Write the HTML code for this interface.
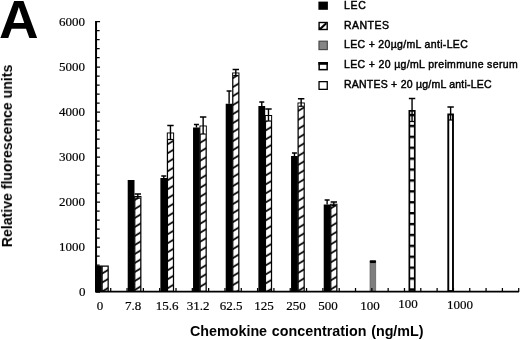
<!DOCTYPE html><html><head><meta charset="utf-8"><style>
html,body{margin:0;padding:0;background:#fff;}
body{width:520px;height:340px;position:relative;overflow:hidden;font-family:"Liberation Sans",sans-serif;color:#000;}
.t{position:absolute;white-space:nowrap;line-height:1;will-change:transform;}
.s{font-family:"Liberation Serif",serif;font-size:13px;-webkit-text-stroke:0.2px #000;}
.yl{right:435px;text-align:right;}
.xl{transform:translateX(-50%);}
.lg{font-size:10.5px;left:344px;font-weight:normal;-webkit-text-stroke:0.45px #000;}
</style></head><body>
<svg width="520" height="340" viewBox="0 0 520 340" style="position:absolute;left:0;top:0">
<defs>
<pattern id="h" width="15" height="9" patternUnits="userSpaceOnUse" patternTransform="translate(0,1.8)"><rect width="15" height="9" fill="#fff"/><path d="M-5,12 L20,-3 M-5,3 L5,-3 M10,12 L20,6" stroke="#000" stroke-width="1.8"/></pattern>
<pattern id="d" width="7" height="10.9" patternUnits="userSpaceOnUse" patternTransform="translate(0,4.9)"><rect width="7" height="10.9" fill="#fff"/><rect width="7" height="2.4" fill="#000"/></pattern>
</defs>
<rect x="95.03" y="265.5" width="6.80" height="26.5" fill="#000"/>
<rect x="102.11" y="266.12" width="6.05" height="25.25" fill="url(#h)" stroke="#000" stroke-width="1.25"/>
<rect x="127.70" y="180" width="6.80" height="112.0" fill="#000"/>
<rect x="134.77" y="196.62" width="6.05" height="94.75" fill="url(#h)" stroke="#000" stroke-width="1.25"/>
<rect x="135.15" y="197.00" width="5.30" height="1.00" fill="#fff"/>
<path d="M137.80,194 V198 M134.60,194 H141.00" stroke="#000" stroke-width="1.4" fill="none"/>
<path d="M135.20,198 H140.40" stroke="#000" stroke-width="1.2" fill="none"/>
<rect x="160.37" y="178" width="6.80" height="114.0" fill="#000"/>
<path d="M163.77,176 V178 M161.27,176 H166.27" stroke="#000" stroke-width="1.4" fill="none"/>
<rect x="167.44" y="133.12" width="6.05" height="158.25" fill="url(#h)" stroke="#000" stroke-width="1.25"/>
<rect x="167.82" y="133.50" width="5.30" height="6.00" fill="#fff"/>
<path d="M170.47,125.5 V139.5 M167.27,125.5 H173.67" stroke="#000" stroke-width="1.4" fill="none"/>
<path d="M167.87,139.5 H173.07" stroke="#000" stroke-width="1.2" fill="none"/>
<rect x="193.04" y="127.5" width="6.80" height="164.5" fill="#000"/>
<path d="M196.44,124.5 V127.5 M193.94,124.5 H198.94" stroke="#000" stroke-width="1.4" fill="none"/>
<rect x="200.11" y="126.12" width="6.05" height="165.25" fill="url(#h)" stroke="#000" stroke-width="1.25"/>
<rect x="200.49" y="126.50" width="5.30" height="7.50" fill="#fff"/>
<path d="M203.14,117 V134.0 M199.94,117 H206.34" stroke="#000" stroke-width="1.4" fill="none"/>
<path d="M200.54,134.0 H205.74" stroke="#000" stroke-width="1.2" fill="none"/>
<rect x="225.71" y="103.75" width="6.80" height="188.25" fill="#000"/>
<path d="M229.11,91 V103.75 M226.61,91 H231.61" stroke="#000" stroke-width="1.4" fill="none"/>
<rect x="232.78" y="73.12" width="6.05" height="218.25" fill="url(#h)" stroke="#000" stroke-width="1.25"/>
<rect x="233.16" y="73.50" width="5.30" height="2.00" fill="#fff"/>
<path d="M235.81,69.5 V75.5 M232.61,69.5 H239.01" stroke="#000" stroke-width="1.4" fill="none"/>
<path d="M233.21,75.5 H238.41" stroke="#000" stroke-width="1.2" fill="none"/>
<rect x="258.38" y="106" width="6.80" height="186.0" fill="#000"/>
<path d="M261.78,102 V106 M259.28,102 H264.28" stroke="#000" stroke-width="1.4" fill="none"/>
<rect x="265.45" y="115.62" width="6.05" height="175.75" fill="url(#h)" stroke="#000" stroke-width="1.25"/>
<rect x="265.83" y="116.00" width="5.30" height="5.00" fill="#fff"/>
<path d="M268.48,109 V121 M265.28,109 H271.68" stroke="#000" stroke-width="1.4" fill="none"/>
<path d="M265.88,121 H271.08" stroke="#000" stroke-width="1.2" fill="none"/>
<rect x="291.05" y="156" width="6.80" height="136.0" fill="#000"/>
<path d="M294.45,153 V156 M291.95,153 H296.95" stroke="#000" stroke-width="1.4" fill="none"/>
<rect x="298.12" y="103.12" width="6.05" height="188.25" fill="url(#h)" stroke="#000" stroke-width="1.25"/>
<rect x="298.50" y="103.50" width="5.30" height="2.75" fill="#fff"/>
<path d="M301.15,98.75 V106.25 M297.95,98.75 H304.35" stroke="#000" stroke-width="1.4" fill="none"/>
<path d="M298.55,106.25 H303.75" stroke="#000" stroke-width="1.2" fill="none"/>
<rect x="323.72" y="204.5" width="6.80" height="87.5" fill="#000"/>
<path d="M327.12,200 V204.5 M324.62,200 H329.62" stroke="#000" stroke-width="1.4" fill="none"/>
<rect x="330.79" y="204.38" width="6.05" height="87.00" fill="url(#h)" stroke="#000" stroke-width="1.25"/>
<rect x="331.17" y="204.75" width="5.30" height="0.75" fill="#fff"/>
<path d="M333.82,202 V205.5 M330.62,202 H337.02" stroke="#000" stroke-width="1.4" fill="none"/>
<path d="M331.22,205.5 H336.42" stroke="#000" stroke-width="1.2" fill="none"/>
<rect x="369.99" y="262.90" width="5.80" height="28.80" fill="#7e7e7e" stroke="#5a5a5a" stroke-width="0.6"/>
<rect x="369.69" y="260.20000000000005" width="6.40" height="2.8" rx="0.8" fill="#000"/>
<rect x="409.36" y="110.85" width="5.40" height="180.30" fill="url(#d)" stroke="#000" stroke-width="1.7"/>
<path d="M412.06,98.5 V121.5 M408.86,98.5 H415.26" stroke="#000" stroke-width="1.4" fill="none"/>
<path d="M409.46,121.5 H414.66" stroke="#000" stroke-width="1.2" fill="none"/>
<rect x="448.28" y="114.45" width="4.70" height="176.60" fill="#fff" stroke="#000" stroke-width="1.9"/>
<path d="M450.63,107 V120.0 M447.43,107 H453.83" stroke="#000" stroke-width="1.4" fill="none"/>
<path d="M448.03,120.0 H453.23" stroke="#000" stroke-width="1.2" fill="none"/>
<path d="M96.05,20.9 V292.0" stroke="#000" stroke-width="2" fill="none"/>
<path d="M95.05,291.6 H519" stroke="#000" stroke-width="1.9" fill="none"/>
<path d="M96.05,292.0 H100.05 M96.05,283.0 H99.64999999999999 M96.05,274.0 H99.64999999999999 M96.05,265.0 H99.64999999999999 M96.05,256.0 H99.64999999999999 M96.05,247.0 H100.05 M96.05,238.0 H99.64999999999999 M96.05,229.0 H99.64999999999999 M96.05,220.0 H99.64999999999999 M96.05,211.0 H99.64999999999999 M96.05,202.0 H100.05 M96.05,193.0 H99.64999999999999 M96.05,184.0 H99.64999999999999 M96.05,175.0 H99.64999999999999 M96.05,166.0 H99.64999999999999 M96.05,157.0 H100.05 M96.05,148.0 H99.64999999999999 M96.05,139.0 H99.64999999999999 M96.05,130.0 H99.64999999999999 M96.05,121.0 H99.64999999999999 M96.05,112.0 H100.05 M96.05,103.0 H99.64999999999999 M96.05,94.0 H99.64999999999999 M96.05,85.0 H99.64999999999999 M96.05,76.0 H99.64999999999999 M96.05,67.0 H100.05 M96.05,57.6 H99.64999999999999 M96.05,48.6 H99.64999999999999 M96.05,39.6 H99.64999999999999 M96.05,30.6 H99.64999999999999 M96.05,21.6 H100.05 M110.72,292.0 v-4 M127.04,292.0 v-4 M143.36,292.0 v-4 M159.68,292.0 v-4 M176.00,292.0 v-4 M192.32,292.0 v-4 M208.64,292.0 v-4 M224.96,292.0 v-4 M241.28,292.0 v-4 M257.60,292.0 v-4 M273.92,292.0 v-4 M290.24,292.0 v-4 M306.56,292.0 v-4 M322.88,292.0 v-4 M339.20,292.0 v-4 M355.52,292.0 v-4 M371.84,292.0 v-4 M388.16,292.0 v-4 M404.48,292.0 v-4 M420.80,292.0 v-4 M437.12,292.0 v-4 M453.44,292.0 v-4 M469.76,292.0 v-4 M486.08,292.0 v-4 M502.40,292.0 v-4 M518.72,292.0 v-4" stroke="#000" stroke-width="1.25" fill="none"/>
<rect x="318.4" y="1.6" width="9.5" height="8.2" fill="#000"/>
<rect x="319.10" y="22.50" width="8.10" height="7.00" fill="#fff" stroke="#000" stroke-width="1.4"/>
<path d="M319.59999999999997,29.6 L326.29999999999995,23.2" stroke="#000" stroke-width="2.1"/><path d="M319.09999999999997,26.8 V29.5 H321.79999999999995 Z" fill="#000"/>
<rect x="319.00" y="41.20" width="8.30" height="8.40" fill="#868686" stroke="#4a4a4a" stroke-width="1.2"/>
<rect x="319.15" y="62.75" width="8.00" height="6.90" fill="#fff" stroke="#000" stroke-width="1.5"/>
<rect x="318.4" y="62" width="9.5" height="2.8" fill="#000"/>
<rect x="319.05" y="81.65" width="8.20" height="7.70" fill="#fff" stroke="#000" stroke-width="1.3"/>
</svg>
<div class="t" style="left:-1px;top:-6.9px;font-size:53px;font-weight:bold;transform-origin:0 0;transform:scaleX(1.035);">A</div>
<div class="t s yl" style="top:285.11px;">0</div>
<div class="t s yl" style="top:240.11px;">1000</div>
<div class="t s yl" style="top:195.11px;">2000</div>
<div class="t s yl" style="top:150.11px;">3000</div>
<div class="t s yl" style="top:105.11px;">4000</div>
<div class="t s yl" style="top:60.11px;">5000</div>
<div class="t s yl" style="top:15.11px;">6000</div>
<div class="t s xl" style="left:100px;top:299.11px;">0</div>
<div class="t s xl" style="left:133.1px;top:299.11px;">7.8</div>
<div class="t s xl" style="left:166.5px;top:299.11px;">15.6</div>
<div class="t s xl" style="left:198.25px;top:299.11px;">31.2</div>
<div class="t s xl" style="left:230.5px;top:299.11px;">62.5</div>
<div class="t s xl" style="left:263.8px;top:299.11px;">125</div>
<div class="t s xl" style="left:296px;top:299.11px;">250</div>
<div class="t s xl" style="left:328.4px;top:299.11px;">500</div>
<div class="t s xl" style="left:370px;top:299.11px;">100</div>
<div class="t s xl" style="left:407.8px;top:296.61px;">100</div>
<div class="t s xl" style="left:459.6px;top:297.61px;">1000</div>
<div class="t" id="yt" style="left:6.6px;top:156.2px;font-size:14.1px;font-weight:bold;transform:translate(-50%,-50%) rotate(-90deg);">Relative fluorescence units</div>
<div class="t" id="xt" style="left:190.2px;top:324.1px;font-size:14.3px;word-spacing:0.8px;font-weight:bold;">Chemokine concentration (ng/mL)</div>
<div class="t lg" id="l0" style="top:0.11px;letter-spacing:0.7px;">LEC</div>
<div class="t lg" id="l1" style="top:19.91px;letter-spacing:0.48px;">RANTES</div>
<div class="t lg" id="l2" style="top:39.41px;letter-spacing:0.33px;">LEC + 20&micro;g/mL anti-LEC</div>
<div class="t lg" id="l3" style="top:59.21px;letter-spacing:0.35px;">LEC + 20 &micro;g/mL preimmune serum</div>
<div class="t lg" id="l4" style="top:78.71px;letter-spacing:0.23px;">RANTES + 20 &micro;g/mL anti-LEC</div>
</body></html>
